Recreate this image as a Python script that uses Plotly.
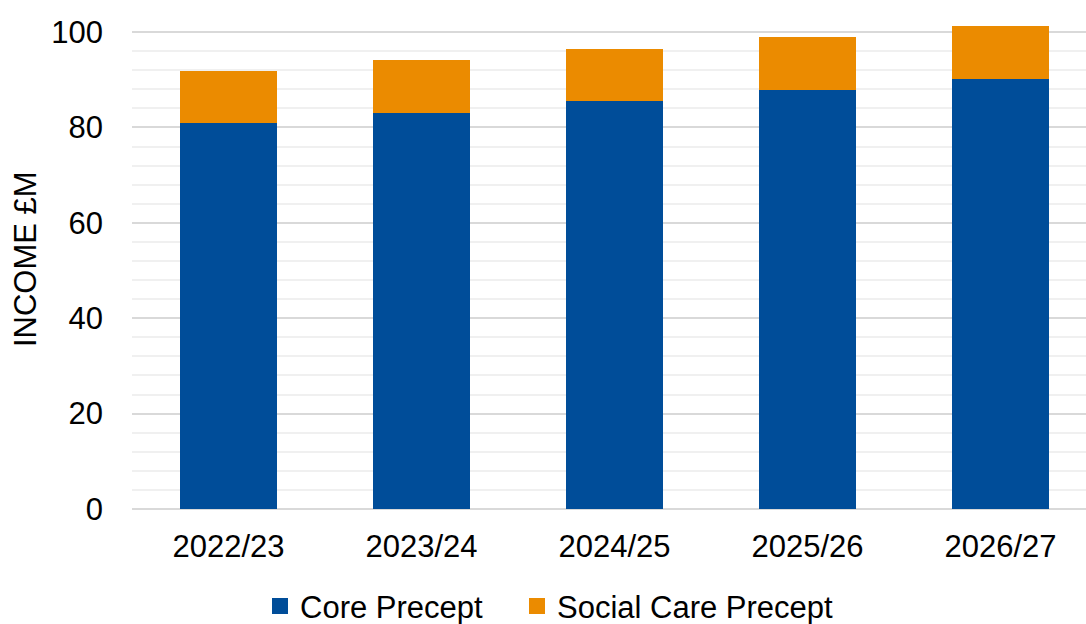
import plotly.graph_objects as go

years = ["2022/23", "2023/24", "2024/25", "2025/26", "2026/27"]
core_precept = [80.9, 83.1, 85.5, 87.8, 90.2]
social_care_precept = [10.9, 11.0, 11.0, 11.1, 11.1]
y_ticks = [0, 20, 40, 60, 80, 100]
series_names = ["Core Precept", "Social Care Precept"]
y_title = "INCOME £M"

FONT = "Liberation Sans, Arial, sans-serif"
BLUE = "#004D99"
ORANGE = "#EB8B00"

fig = go.Figure()
fig.add_trace(go.Bar(x=years, y=core_precept, name=series_names[0], showlegend=False,
                     marker=dict(color=BLUE, line=dict(width=0))))
fig.add_trace(go.Bar(x=years, y=social_care_precept, name=series_names[1], showlegend=False,
                     marker=dict(color=ORANGE, line=dict(width=0))))
# legend-only entries with larger square swatches, one legend box each
for nm, col, lg in zip(series_names, [BLUE, ORANGE], ["legend", "legend2"]):
    fig.add_trace(go.Scatter(x=[None], y=[None], mode="markers", name=nm, legend=lg,
                             marker=dict(symbol="square", size=17, color=col)))

legend_common = dict(orientation="h", xref="container", xanchor="left",
                     y=-0.142, yanchor="top", font=dict(size=31),
                     bgcolor="rgba(0,0,0,0)", borderwidth=0)

fig.update_layout(
    barmode="stack",
    bargap=0.5,
    width=1086, height=624,
    margin=dict(l=132, r=0, t=13, b=115, autoexpand=False),
    paper_bgcolor="white", plot_bgcolor="white",
    font=dict(family=FONT, size=31, color="black"),
    showlegend=True,
    legend=dict(x=260 / 1086, **legend_common),
    legend2=dict(x=517 / 1086, **legend_common),
    xaxis=dict(range=[-0.5, 4.443], showgrid=False, showline=False, ticks="",
               automargin=False, tickfont=dict(size=31), ticklabelstandoff=16),
    yaxis=dict(range=[0, 104], tickvals=y_ticks, ticktext=[str(v) for v in y_ticks],
               automargin=False,
               showgrid=True, gridcolor="#D9D9D9", gridwidth=1.5,
               zeroline=True, zerolinecolor="#D9D9D9", zerolinewidth=1.5,
               minor=dict(dtick=4, showgrid=True, gridcolor="#F0F0F0", gridwidth=1.5),
               showline=False, ticks="", tickfont=dict(size=31), ticklabelstandoff=28),
    annotations=[dict(text=y_title, textangle=-90, showarrow=False,
                      xref="paper", yref="paper", x=(25 - 132) / 954, y=0.504,
                      xanchor="center", yanchor="middle", font=dict(size=31))],
)

fig.write_html("out.html")
